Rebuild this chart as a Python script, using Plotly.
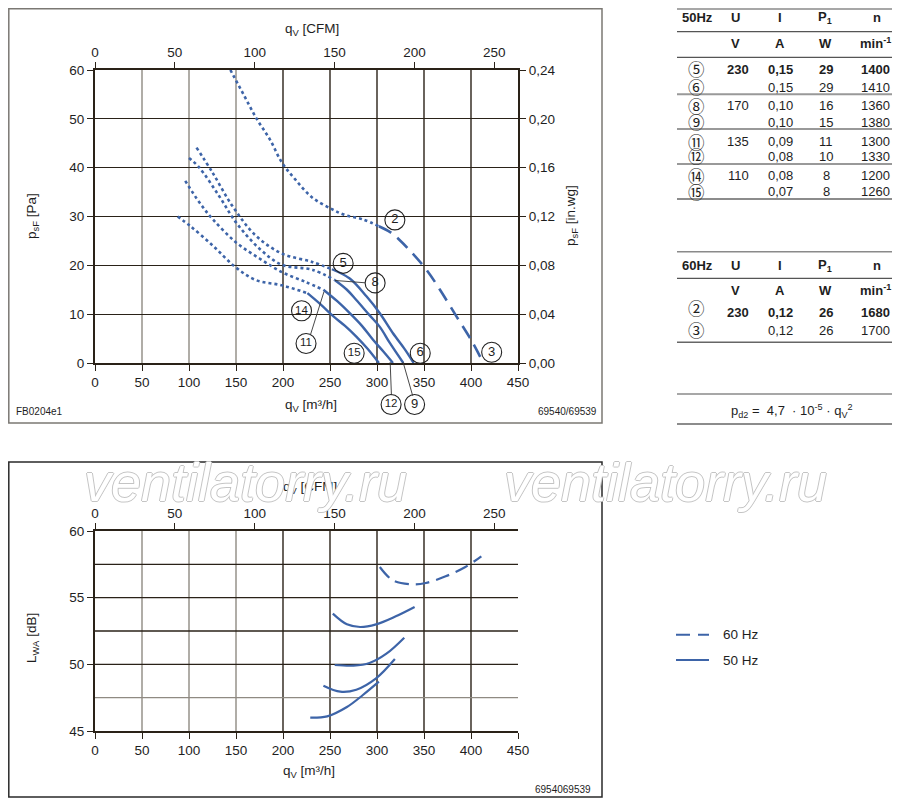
import plotly.graph_objects as go

# the page body keeps its default 8px margin, so the figure is laid out
# in page pixels and shifted by that margin
OFF = 8
W, H = 900 - OFF, 802 - OFF

def fx(x):
    return (x - OFF) / W

def fy(y):
    return 1 - (y - OFF) / H

BLUE = "#3d64a8"
DARK = "#2a2218"
GRAY = "#8f8a82"
INK = "#1e1e1e"
FONT = "Liberation Sans, Arial, DejaVu Sans, sans-serif"
SYM_FONT = "Noto Sans CJK JP, DejaVu Sans, sans-serif"

# ---- pressure curves, q in m3/h, p in Pa ----
# 60 Hz
q2_dot = [144, 158, 172, 186, 199, 213, 231, 252, 266, 285, 302]
p2_dot = [60, 55, 50, 45.8, 41, 37.6, 33.9, 31.5, 30.3, 29.4, 28.0]
q2_dash = [302, 314, 324, 338, 353, 367, 385, 402, 413]
p2_dash = [28.0, 26.8, 25.2, 22.4, 19.0, 15.0, 9.4, 4.1, 0]
# 50 Hz, 230 V
q5_dot = [108, 125, 146, 171, 199, 231, 252]
p5_dot = [44.1, 39, 32.2, 26.1, 22.4, 20.7, 19.2]
q5 = [252, 271, 289, 303, 317, 330, 339]
p5 = [19.2, 17.3, 13.6, 10.2, 6.1, 2.7, 0]
# 170 V
q8_dot = [100, 111, 132, 150, 175, 199, 231, 255]
p8_dot = [42.0, 40, 34.2, 28.8, 23.4, 20.1, 19.1, 17.0]
q8 = [255, 268, 278, 292, 303, 314, 328]
p8 = [17.0, 15.0, 12.9, 9.8, 7.4, 4.0, 0]
# 135 V
q11_dot = [96, 111, 125, 150, 175, 199, 224, 243]
p11_dot = [37.3, 32.9, 29.5, 24.7, 21.4, 18.6, 16.6, 15.0]
q11 = [243, 258, 271, 284, 296, 307, 317]
p11 = [15.0, 12.6, 10.2, 7.6, 4.7, 2.3, 0]
# 110 V
q14_dot = [88, 101, 125, 149, 171, 199, 226]
p14_dot = [30, 28.1, 24.1, 19.7, 17.0, 15.9, 14.3]
q14 = [226, 240, 254, 266, 278, 290, 302]
p14 = [14.3, 12.0, 9.5, 7.6, 5.4, 2.9, 0]

# curve labels
lab_text = ["2", "3", "5", "6", "8", "9", "11", "12", "14", "15"]
lab_q = [319, 422, 264, 346, 298, 340, 224.5, 315, 219.7, 275.7]
lab_p = [29.3, 2.2, 20.4, 2.0, 16.4, -8.5, 4.0, -8.5, 10.7, 2.0]
# leader lines: (curve point) <- (label point)
lead_q = [255.3, 243.6, 314.0, 327.7]
lead_p = [16.9, 14.6, 0.2, 0.2]
lead_q0 = [289, 228.6, 315.4, 338.4]
lead_p0 = [16.4, 5.4, -6.9, -7.0]

# ---- sound power curves, L in dB ----
qs60 = [303, 317, 338, 352, 373, 394, 411]
ls60 = [57.3, 56.3, 56.0, 56.1, 56.6, 57.3, 58.1]
qs5 = [253, 268, 282, 299, 320, 340]
ls5 = [53.8, 53.0, 52.8, 53.0, 53.6, 54.3]
qs8 = [255, 275, 292, 310, 329]
ls8 = [49.95, 49.9, 50.1, 50.8, 52.0]
qs11 = [243, 261, 278, 299, 319]
ls11 = [48.4, 47.95, 48.1, 48.95, 50.4]
qs14 = [229, 247, 268, 285, 302]
ls14 = [46.0, 46.1, 46.8, 47.7, 48.7]

cfm_ticks = [0, 50, 100, 150, 200, 250]
M3H_PER_CFM = 1.699
q_grid = [50, 100, 150, 200, 250, 300, 350, 400]
q_grid_light = [50, 100, 150]
l_grid = [47.5, 50, 52.5, 55, 57.5]
l_grid_light = [47.5]

# plot areas in page pixels
TOP_Y0, TOP_Y1 = 70, 363      # 60 Pa .. 0 Pa
LAB_Y1 = 423                   # labels may hang below the axis down to here
BOT_Y0, BOT_Y1 = 531, 731

fig = go.Figure()

def curve(x, y, dash, xa="x", ya="y", width=2.4):
    fig.add_trace(go.Scatter(x=x, y=y, mode="lines", xaxis=xa, yaxis=ya,
                             line=dict(color=BLUE, width=width, dash=dash, shape="spline"),
                             showlegend=False, hoverinfo="skip"))

for qd, pd_ in [(q2_dot, p2_dot), (q5_dot, p5_dot), (q8_dot, p8_dot),
                (q11_dot, p11_dot), (q14_dot, p14_dot)]:
    curve(qd, pd_, "dot", width=2.6)
curve(q2_dash, p2_dash, "14px,8px", width=2.6)
for qd, pd_ in [(q5, p5), (q8, p8), (q11, p11), (q14, p14)]:
    curve(qd, pd_, "solid")

curve(qs60, ls60, "14px,7px", "x3", "y3", 2.2)
for qd, ld in [(qs5, ls5), (qs8, ls8), (qs11, ls11), (qs14, ls14)]:
    curve(qd, ld, "solid", "x3", "y3", 2.2)

# circled labels, on hidden axes with the same scale but reaching lower
fig.add_trace(go.Scatter(
    x=lab_q, y=lab_p, mode="markers+text", text=lab_text, xaxis="x5", yaxis="y4",
    textposition="middle center", cliponaxis=False,
    textfont=dict(family=FONT, color=INK,
                  size=[13 if len(t) == 1 else 11.5 for t in lab_text]),
    marker=dict(symbol="circle-open", size=20, color="#222", line=dict(width=1.1)),
    showlegend=False, hoverinfo="skip"))

# dummy traces so the secondary axes exist
fig.add_trace(go.Scatter(x=[None], y=[None], xaxis="x2", yaxis="y", showlegend=False))
fig.add_trace(go.Scatter(x=[None], y=[None], xaxis="x", yaxis="y2", showlegend=False))
fig.add_trace(go.Scatter(x=[None], y=[None], xaxis="x4", yaxis="y3", showlegend=False))

tickfont = dict(family=FONT, size=13.5, color=INK)
base = dict(showline=True, linecolor=DARK, linewidth=2, ticks="outside", ticklen=6,
            tickcolor=DARK, tickwidth=1.3, zeroline=False, automargin=False,
            tickfont=tickfont)
xdom = [fx(95), fx(518)]
lab_low = 60 - 60 * (LAB_Y1 - TOP_Y0) / (TOP_Y1 - TOP_Y0)

fig.update_layout(
    width=W, height=H, margin=dict(l=0, r=0, t=0, b=0),
    paper_bgcolor="white", plot_bgcolor="rgba(0,0,0,0)", separators=", ",
    xaxis=dict(domain=xdom, range=[0, 450], dtick=50, anchor="y", showgrid=False, **base),
    xaxis2=dict(overlaying="x", side="top", anchor="y", range=[0, 450 / M3H_PER_CFM],
                tickvals=cfm_ticks, showgrid=False, **base),
    yaxis=dict(domain=[fy(TOP_Y1), fy(TOP_Y0)], range=[0, 60], dtick=10, anchor="x",
               showgrid=True, gridcolor=DARK, gridwidth=1.3, **base),
    yaxis2=dict(overlaying="y", side="right", anchor="x", range=[0, 0.24], dtick=0.04,
                tickformat=".2f", showgrid=False, **base),
    xaxis5=dict(domain=xdom, range=[0, 450], anchor="y4", visible=False),
    yaxis4=dict(domain=[fy(LAB_Y1), fy(TOP_Y0)], range=[lab_low, 60], anchor="x5",
                visible=False),
    xaxis3=dict(domain=xdom, range=[0, 450], dtick=50, anchor="y3", showgrid=False, **base),
    xaxis4=dict(overlaying="x3", side="top", anchor="y3", range=[0, 450 / M3H_PER_CFM],
                tickvals=cfm_ticks, showgrid=False, **base),
    yaxis3=dict(domain=[fy(BOT_Y1), fy(BOT_Y0)], range=[45, 60], tickvals=[45, 50, 55, 60],
                anchor="x3", showgrid=False, **base),
)

shapes = []
# grid lines drawn one by one, some lighter as in the print
for xv in q_grid:
    col = GRAY if xv in q_grid_light else DARK
    for xa, ya in [("x", "y domain"), ("x3", "y3 domain")]:
        shapes.append(dict(type="line", xref=xa, yref=ya, x0=xv, x1=xv, y0=0, y1=1,
                           layer="below", line=dict(color=col, width=1.4)))
for lv in l_grid:
    col = GRAY if lv in l_grid_light else DARK
    shapes.append(dict(type="line", xref="x3 domain", yref="y3", x0=0, x1=1, y0=lv, y1=lv,
                       layer="below", line=dict(color=col, width=1.4)))
# frames
shapes.append(dict(type="rect", xref="paper", yref="paper", x0=fx(8.8), x1=fx(602),
                   y0=fy(423), y1=fy(8.8), line=dict(color="#7b7873", width=1.5)))
shapes.append(dict(type="rect", xref="paper", yref="paper", x0=fx(8.8), x1=fx(602),
                   y0=fy(797), y1=fy(462), line=dict(color="#2a2a2a", width=1.5)))
# table rules
for yv, col, wd in [(9, "#8a8a8a", 1.5), (31.7, "#555", 1.2), (57.3, "#555", 1.2),
                    (94.3, "#999", 2), (129, "#999", 2), (164, "#999", 2), (199, "#666", 1.5),
                    (251.7, "#8a8a8a", 1.5), (278.3, "#555", 1.2), (342.3, "#666", 1.5),
                    (394, "#8a8a8a", 1.5), (424, "#666", 1.5)]:
    shapes.append(dict(type="line", xref="paper", yref="paper", x0=fx(677), x1=fx(897),
                       y0=fy(yv), y1=fy(yv), line=dict(color=col, width=wd)))
# legend samples
shapes.append(dict(type="line", xref="paper", yref="paper", x0=fx(676), x1=fx(709),
                   y0=fy(634.7), y1=fy(634.7), line=dict(color=BLUE, width=2, dash="14px,8px")))
shapes.append(dict(type="line", xref="paper", yref="paper", x0=fx(676), x1=fx(709),
                   y0=fy(660), y1=fy(660), line=dict(color=BLUE, width=2)))
fig.update_layout(shapes=shapes)

ann = []

def txt(x, y, s, size=13.5, xanchor="center", angle=0, color=INK, family=FONT, **kw):
    ann.append(dict(x=fx(x), y=fy(y), xref="paper", yref="paper", text=s, showarrow=False,
                    xanchor=xanchor, yanchor="middle", textangle=angle,
                    font=dict(family=family, size=size, color=color, **kw)))

# leader lines
for q1, p1, q0, p0 in zip(lead_q, lead_p, lead_q0, lead_p0):
    ann.append(dict(x=q1, y=p1, ax=q0, ay=p0, xref="x", yref="y", axref="x", ayref="y",
                    text="", showarrow=True, arrowhead=0, arrowwidth=0.9,
                    arrowcolor="#333", standoff=0, startstandoff=0))

# axis titles
txt(283, 30, "q<sub>V</sub> [CFM]", xanchor="left")
txt(32, 216, "p<sub>sF</sub> [Pa]", angle=-90)
txt(571, 216, "p<sub>sF</sub> [in.wg]", angle=-90)
txt(283, 405, "q<sub>V</sub> [m³/h]", xanchor="left")
txt(281, 487, "q<sub>V</sub> [CFM]", xanchor="left")
txt(32, 638, "L<sub>WA</sub> [dB]", angle=-90)
txt(281, 771, "q<sub>V</sub> [m³/h]", xanchor="left")
txt(14, 411, "FB0204e1", size=10, xanchor="left")
txt(599, 411, "69540/69539", size=10, xanchor="right")
txt(593, 789, "6954069539", size=10, xanchor="right")

# watermark
for cx in [245, 665]:
    ann.append(dict(x=fx(cx), y=fy(482), xref="paper", yref="paper", text="ventilatorry.ru",
                    showarrow=False, xanchor="center", yanchor="middle",
                    font=dict(family=FONT, size=54, color="white", style="italic",
                              shadow="1px 0 #c4c4c4, -1px 0 #c4c4c4, 0 1px #c4c4c4, 0 -1px #c4c4c4")))

# 50 Hz table
txt(697, 17.3, "<b>50Hz</b>", size=13)
txt(735, 17.3, "<b>U</b>", size=13)
txt(780, 17.3, "<b>I</b>", size=13)
txt(825, 17.3, "<b>P<sub>1</sub></b>", size=13)
txt(877, 17.3, "<b>n</b>", size=13)
txt(735, 43.3, "<b>V</b>", size=13)
txt(780, 43.3, "<b>A</b>", size=13)
txt(825, 43.3, "<b>W</b>", size=13)
txt(893, 43.3, "<b>min<sup>-1</sup></b>", size=13, xanchor="right")

t50_sym = ["⑤", "⑥", "⑧", "⑨", "⑪", "⑫", "⑭", "⑮"]
t50_u = ["230", "", "170", "", "135", "", "110", ""]
t50_i = ["0,15", "0,15", "0,10", "0,10", "0,09", "0,08", "0,08", "0,07"]
t50_p = ["29", "29", "16", "15", "11", "10", "8", "8"]
t50_n = ["1400", "1410", "1360", "1380", "1300", "1330", "1200", "1260"]
t50_y = [69.3, 87.3, 106, 122.3, 141.7, 156, 176, 191.7]
for k, yv in enumerate(t50_y):
    b = (lambda s: "<b>" + s + "</b>") if k == 0 else (lambda s: s)
    txt(696, yv, t50_sym[k], size=16.5, family=SYM_FONT)
    if t50_u[k]:
        txt(738, yv, b(t50_u[k]), size=13)
    txt(780, yv, b(t50_i[k]), size=13)
    txt(826, yv, b(t50_p[k]), size=13)
    txt(892, yv, b(t50_n[k]), size=13, xanchor="right")

# 60 Hz table
txt(697, 266, "<b>60Hz</b>", size=13)
txt(735, 266, "<b>U</b>", size=13)
txt(780, 266, "<b>I</b>", size=13)
txt(825, 266, "<b>P<sub>1</sub></b>", size=13)
txt(877, 266, "<b>n</b>", size=13)
txt(735, 290, "<b>V</b>", size=13)
txt(780, 290, "<b>A</b>", size=13)
txt(825, 290, "<b>W</b>", size=13)
txt(893, 290, "<b>min<sup>-1</sup></b>", size=13, xanchor="right")
t60_sym = ["②", "③"]
t60_u = ["230", ""]
t60_i = ["0,12", "0,12"]
t60_p = ["26", "26"]
t60_n = ["1680", "1700"]
t60_y = [313, 330]
for k, yv in enumerate(t60_y):
    b = (lambda s: "<b>" + s + "</b>") if k == 0 else (lambda s: s)
    txt(696, yv - (5 if k == 0 else 0), t60_sym[k], size=16.5, family=SYM_FONT)
    if t60_u[k]:
        txt(738, yv, b(t60_u[k]), size=13)
    txt(780, yv, b(t60_i[k]), size=13)
    txt(826, yv, b(t60_p[k]), size=13)
    txt(892, yv, b(t60_n[k]), size=13, xanchor="right")

txt(792, 411, "p<sub>d2</sub> =  4,7  · 10<sup>-5</sup> · q<sub>V</sub><sup>2</sup>", size=13)

# legend text
txt(721, 634.7, "60 Hz", size=13.5, xanchor="left")
txt(721, 660, "50 Hz", size=13.5, xanchor="left")

fig.update_layout(annotations=ann)

fig.write_html("out.html")
